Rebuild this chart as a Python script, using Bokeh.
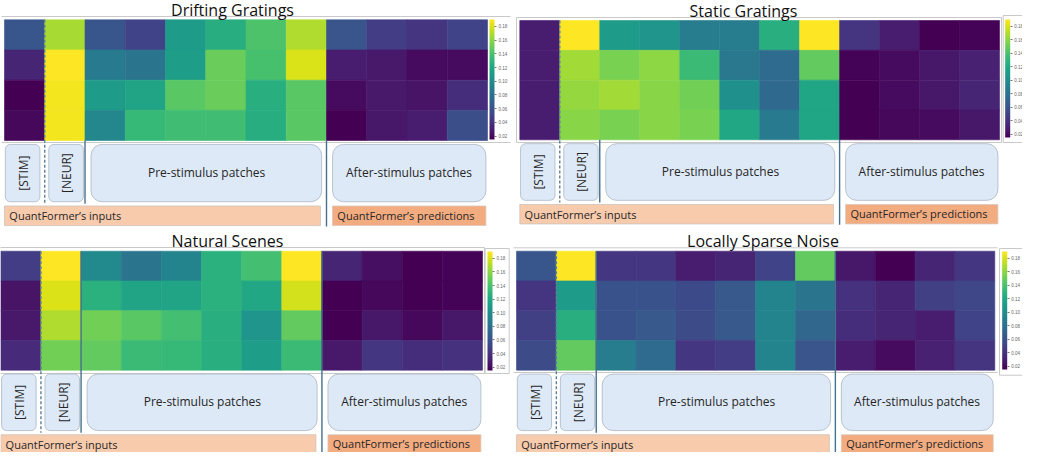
from bokeh.plotting import figure
from bokeh.models import Range1d, LinearColorMapper, ColorBar, FixedTicker, ColumnDataSource
from bokeh.palettes import Viridis256
from bokeh.core.properties import value
from bokeh.embed import file_html
from bokeh.resources import INLINE
import math

# ---------------- data ----------------
titles = ["Drifting Gratings", "Static Gratings", "Natural Scenes", "Locally Sparse Noise"]

drifting = [
    [0.062, 0.167, 0.062, 0.050, 0.111, 0.124, 0.141, 0.169, 0.061, 0.047, 0.041, 0.050],
    [0.033, 0.190, 0.088, 0.082, 0.113, 0.150, 0.139, 0.180, 0.029, 0.027, 0.020, 0.020],
    [0.015, 0.187, 0.111, 0.117, 0.145, 0.150, 0.125, 0.145, 0.020, 0.027, 0.024, 0.038],
    [0.019, 0.187, 0.096, 0.132, 0.136, 0.136, 0.124, 0.145, 0.015, 0.026, 0.029, 0.057],
]
static = [
    [0.029, 0.190, 0.111, 0.106, 0.089, 0.089, 0.125, 0.190, 0.041, 0.029, 0.015, 0.017],
    [0.029, 0.166, 0.155, 0.160, 0.134, 0.085, 0.076, 0.148, 0.017, 0.020, 0.026, 0.031],
    [0.029, 0.162, 0.166, 0.159, 0.153, 0.103, 0.075, 0.118, 0.015, 0.020, 0.026, 0.033],
    [0.029, 0.159, 0.155, 0.159, 0.155, 0.120, 0.087, 0.118, 0.015, 0.019, 0.020, 0.026],
]
natural = [
    [0.047, 0.190, 0.099, 0.082, 0.094, 0.127, 0.138, 0.190, 0.033, 0.022, 0.015, 0.017],
    [0.024, 0.181, 0.127, 0.117, 0.117, 0.127, 0.120, 0.178, 0.015, 0.019, 0.015, 0.017],
    [0.027, 0.169, 0.153, 0.145, 0.138, 0.125, 0.106, 0.148, 0.015, 0.026, 0.019, 0.026],
    [0.036, 0.153, 0.148, 0.134, 0.132, 0.125, 0.113, 0.134, 0.027, 0.043, 0.038, 0.040],
]
sparse = [
    [0.062, 0.190, 0.043, 0.043, 0.029, 0.033, 0.050, 0.148, 0.026, 0.015, 0.033, 0.043],
    [0.041, 0.111, 0.059, 0.059, 0.054, 0.064, 0.094, 0.082, 0.040, 0.033, 0.048, 0.052],
    [0.048, 0.125, 0.059, 0.064, 0.055, 0.064, 0.094, 0.073, 0.038, 0.033, 0.029, 0.050],
    [0.055, 0.148, 0.089, 0.076, 0.043, 0.047, 0.094, 0.061, 0.029, 0.020, 0.031, 0.041],
]
panel_values = [drifting, static, natural, sparse]

cbar_ticks = [0.02, 0.04, 0.06, 0.08, 0.10, 0.12, 0.14, 0.16, 0.18]
cbar_labels = {t: "%.2f" % t for t in cbar_ticks}

box_labels = ["[STIM]", "[NEUR]", "Pre-stimulus patches", "After-stimulus patches"]
bar_labels = ["QuantFormer\u2019s inputs", "QuantFormer\u2019s predictions"]

# ---------------- layout (pixels of the canvas) ----------------
W, H = 1022, 452
# per-panel shift (dx, dy) to fit the canvas
shifts = [(0, -2), (-9, -2), (0, -9), (-9, -9)]
# heatmap left, right, top, bottom
geoms = [
    (4.0, 487.0, 21.3, 142.0),
    (528.3, 1008.0, 22.0, 141.3),
    (0.3, 482.0, 259.7, 378.7),
    (525.0, 1003.3, 259.7, 378.7),
]
title_pos = [(232, 11), (752, 12), (227, 249), (771.5, 249)]
cbar_pos = [(489, 21, 141), (1013.7, 21, 139), (487, 260, 379), (1010.7, 260, 378)]
solid_from = [4.0, 4.0, 0.0, 0.0]

FONT = "Open Sans"
TXT = "#262626"
FRAME = "#c9c9c9"
LINE = "#46708e"

p = figure(width=W, height=H, x_range=Range1d(0, W), y_range=Range1d(H, 0),
           output_backend="svg", toolbar_location=None, min_border=0,
           x_axis_type=None, y_axis_type=None)
p.outline_line_color = None
p.background_fill_color = "white"

mapper = LinearColorMapper(palette=Viridis256, low=0.015, high=0.19)

xr_dict, yr_dict = {}, {}
for i, (L, R, T, B) in enumerate(geoms):
    dx, dy = shifts[i]
    L, R, T, B = L + dx, R + dx, T + dy, B + dy
    sx = (R - L) / 12.0
    sy = (B - T) / 4.0
    xr_dict["x%d" % i] = Range1d(-L / sx, (W - L) / sx)
    yr_dict["y%d" % i] = Range1d((H - T) / sy, -T / sy)
p.extra_x_ranges = xr_dict
p.extra_y_ranges = yr_dict

def hseg(x0, x1, y, d):
    p.segment(x0=[x0 + d[0]], y0=[y + d[1]], x1=[x1 + d[0]], y1=[y + d[1]],
              line_color=FRAME, line_width=1)

def box(l, r, t, b, d):
    p.quad(left=[l + d[0]], right=[r + d[0]], top=[t + d[1]], bottom=[b + d[1]],
           fill_color=None, line_color=FRAME, line_width=1)

# frames (decorative, pixel coords)
hseg(1, 510, 18, shifts[0]); hseg(1, 510, 144, shifts[0])
box(525, 1010, 19, 144, shifts[1]); box(1011.7, 1045, 17, 144, shifts[1])
box(-3, 484, 256, 382, shifts[2]); box(484.7, 508.7, 257, 382, shifts[2])
hseg(522, 1006, 256.3, shifts[3]); hseg(522, 1006, 381, shifts[3])
box(1008, 1045, 257, 383.7, shifts[3])

for i, vals in enumerate(panel_values):
    xr, yr = "x%d" % i, "y%d" % i
    dx, dy = shifts[i]
    xs, ys, vs = [], [], []
    for r, row in enumerate(vals):
        for c, v in enumerate(row):
            xs.append(c + 0.5)
            ys.append(r + 0.5)
            vs.append(v)
    src = ColumnDataSource(dict(x=xs, y=ys, v=vs))
    p.rect(x="x", y="y", width=1, height=1, source=src,
           fill_color={"field": "v", "transform": mapper},
           line_color={"field": "v", "transform": mapper}, line_width=0.6,
           x_range_name=xr, y_range_name=yr)

    # annotation boxes
    p.quad(left=[0.02, 1.1], right=[0.88, 1.96], top=[4.13, 4.13], bottom=[6.03, 6.03],
           fill_color="#dde9f6", line_color="#aab6c4", line_width=0.8, border_radius=5,
           x_range_name=xr, y_range_name=yr)
    p.quad(left=[2.15, 8.15], right=[7.88, 11.96], top=[4.13, 4.13], bottom=[6.03, 6.03],
           fill_color="#dde9f6", line_color="#aab6c4", line_width=0.8, border_radius=11,
           x_range_name=xr, y_range_name=yr)
    p.quad(left=[0.0], right=[7.85], top=[6.17], bottom=[6.82],
           fill_color="#f8cbad", line_color="#cfc3ba", line_width=0.8,
           x_range_name=xr, y_range_name=yr)
    p.quad(left=[8.15], right=[11.96], top=[6.17], bottom=[6.82],
           fill_color="#f3ab80", line_color="#d9c8bd", line_width=0.8,
           x_range_name=xr, y_range_name=yr)

    # divider lines
    p.segment(x0=[1], y0=[0], x1=[1], y1=[6.1], line_color="#5a7e9c", line_width=1.4,
              line_dash="3 2", x_range_name=xr, y_range_name=yr)
    p.segment(x0=[2], y0=[solid_from[i]], x1=[2], y1=[6.1], line_color=LINE, line_width=1.4,
              x_range_name=xr, y_range_name=yr)
    p.segment(x0=[8], y0=[solid_from[i]], x1=[8], y1=[6.85], line_color=LINE, line_width=1.4,
              x_range_name=xr, y_range_name=yr)

    # texts
    p.text(x=[0.47, 1.55], y=[5.08, 5.08], text=box_labels[:2], angle=math.pi / 2,
           text_align="center", text_baseline="middle", text_font=value(FONT),
           text_font_size="12px", text_color=TXT, x_range_name=xr, y_range_name=yr)
    p.text(x=[5.02, 10.05], y=[5.06, 5.06], text=box_labels[2:],
           text_align="center", text_baseline="middle", text_font=value(FONT),
           text_font_size="12px", text_color=TXT, x_range_name=xr, y_range_name=yr)
    p.text(x=[0.12, 8.27], y=[6.5, 6.48], text=bar_labels,
           text_align="left", text_baseline="middle", text_font=value(FONT),
           text_font_size="11px", text_color=TXT, x_range_name=xr, y_range_name=yr)

    # title
    tx, ty = title_pos[i]
    p.text(x=[tx + dx], y=[ty + dy], text=[titles[i]], text_align="center", text_baseline="middle",
           text_font=value(FONT), text_font_size="16px", text_color="#111111")

    # colorbar
    cx, ctop, cbot = cbar_pos[i]
    cb = ColorBar(color_mapper=mapper, ticker=FixedTicker(ticks=cbar_ticks),
                  width=5, height=int(cbot - ctop), padding=0, margin=0,
                  location=(cx + dx, H - (cbot + dy)),
                  major_label_text_font_size="4.5px", major_label_text_color="#666666",
                  major_label_overrides=cbar_labels,
                  major_tick_line_color="#777777", major_tick_out=2, major_tick_in=0,
                  label_standoff=2, bar_line_color=None,
                  border_line_color=None, background_fill_alpha=0)
    p.add_layout(cb, "center")

open("out.html", "w").write(file_html(p, INLINE))
